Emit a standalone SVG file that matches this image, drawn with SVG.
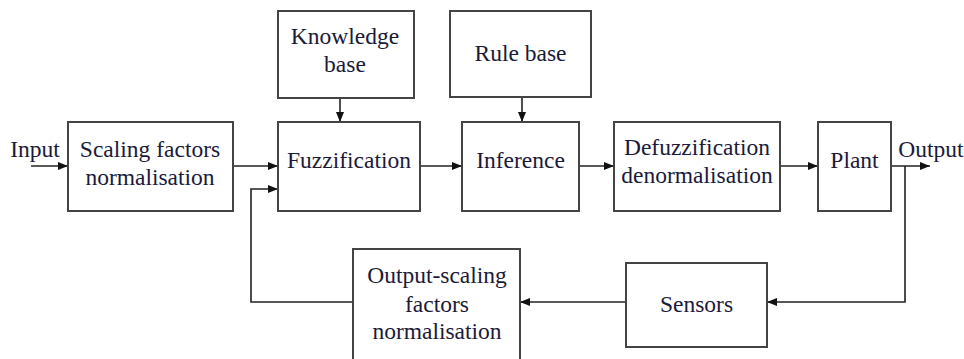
<svg xmlns="http://www.w3.org/2000/svg" width="964" height="359" viewBox="0 0 964 359">
<defs>
<marker id="ah" viewBox="0 0 10 8" refX="10" refY="4" markerWidth="10" markerHeight="8" markerUnits="userSpaceOnUse" orient="auto">
<path d="M0,0 L10,4 L0,8 z" fill="#111"/>
</marker>
</defs>
<style>
.box{fill:#fff;stroke:#444;stroke-width:2}
.t{font-size:23.5px;fill:#1a1a3a;text-anchor:middle}
.c{fill:none;stroke:#222;stroke-width:1.6}
</style>
<rect width="964" height="359" fill="#fff"/>
<g id="connectors">
<path class="c" d="M31,166 H68" marker-end="url(#ah)"/>
<path class="c" d="M233,166 H278" marker-end="url(#ah)"/>
<path class="c" d="M340,98 V122" marker-end="url(#ah)"/>
<path class="c" d="M522,97 V122" marker-end="url(#ah)"/>
<path class="c" d="M420,166 H462" marker-end="url(#ah)"/>
<path class="c" d="M579,166 H614" marker-end="url(#ah)"/>
<path class="c" d="M780,166 H818" marker-end="url(#ah)"/>
<path class="c" d="M891,166 H930" marker-end="url(#ah)"/>
<path class="c" d="M905,166 V302 H767" marker-end="url(#ah)"/>
<path class="c" d="M626,302 H520" marker-end="url(#ah)"/>
<path class="c" d="M353,302 H251 V189 H278" marker-end="url(#ah)"/>
</g>
<g font-family="Liberation Serif, DejaVu Serif, serif">
<g id="input-label"><text class="t" x="35" y="157">Input</text></g>
<g id="output-label"><text class="t" x="931" y="157">Output</text></g>
<g id="scaling">
<rect class="box" x="68" y="122" width="165" height="89"/>
<text class="t" x="150" y="157">Scaling factors</text>
<text class="t" x="150" y="185">normalisation</text>
</g>
<g id="knowledge">
<rect class="box" x="278" y="11" width="136" height="87"/>
<text class="t" x="345" y="44">Knowledge</text>
<text class="t" x="345" y="72">base</text>
</g>
<g id="fuzzification">
<rect class="box" x="278" y="122" width="142" height="89"/>
<text class="t" x="349" y="168">Fuzzification</text>
</g>
<g id="rulebase">
<rect class="box" x="450" y="11" width="141" height="86"/>
<text class="t" x="520.5" y="61">Rule base</text>
</g>
<g id="inference">
<rect class="box" x="462" y="122" width="117" height="89"/>
<text class="t" x="520.5" y="168">Inference</text>
</g>
<g id="defuzzification">
<rect class="box" x="614" y="122" width="166" height="89"/>
<text class="t" x="697" y="155">Defuzzification</text>
<text class="t" x="697" y="183">denormalisation</text>
</g>
<g id="plant">
<rect class="box" x="818" y="122" width="73" height="89"/>
<text class="t" x="854.5" y="168">Plant</text>
</g>
<g id="sensors">
<rect class="box" x="626" y="263" width="141" height="84"/>
<text class="t" x="696.5" y="312">Sensors</text>
</g>
<g id="output-scaling">
<rect class="box" x="353" y="249" width="167" height="115"/>
<text class="t" x="437" y="283" font-size="21.5">Output-scaling</text>
<text class="t" x="437" y="312" font-size="21.5">factors</text>
<text class="t" x="437" y="339" font-size="21.5">normalisation</text>
</g>
</g>
</svg>
